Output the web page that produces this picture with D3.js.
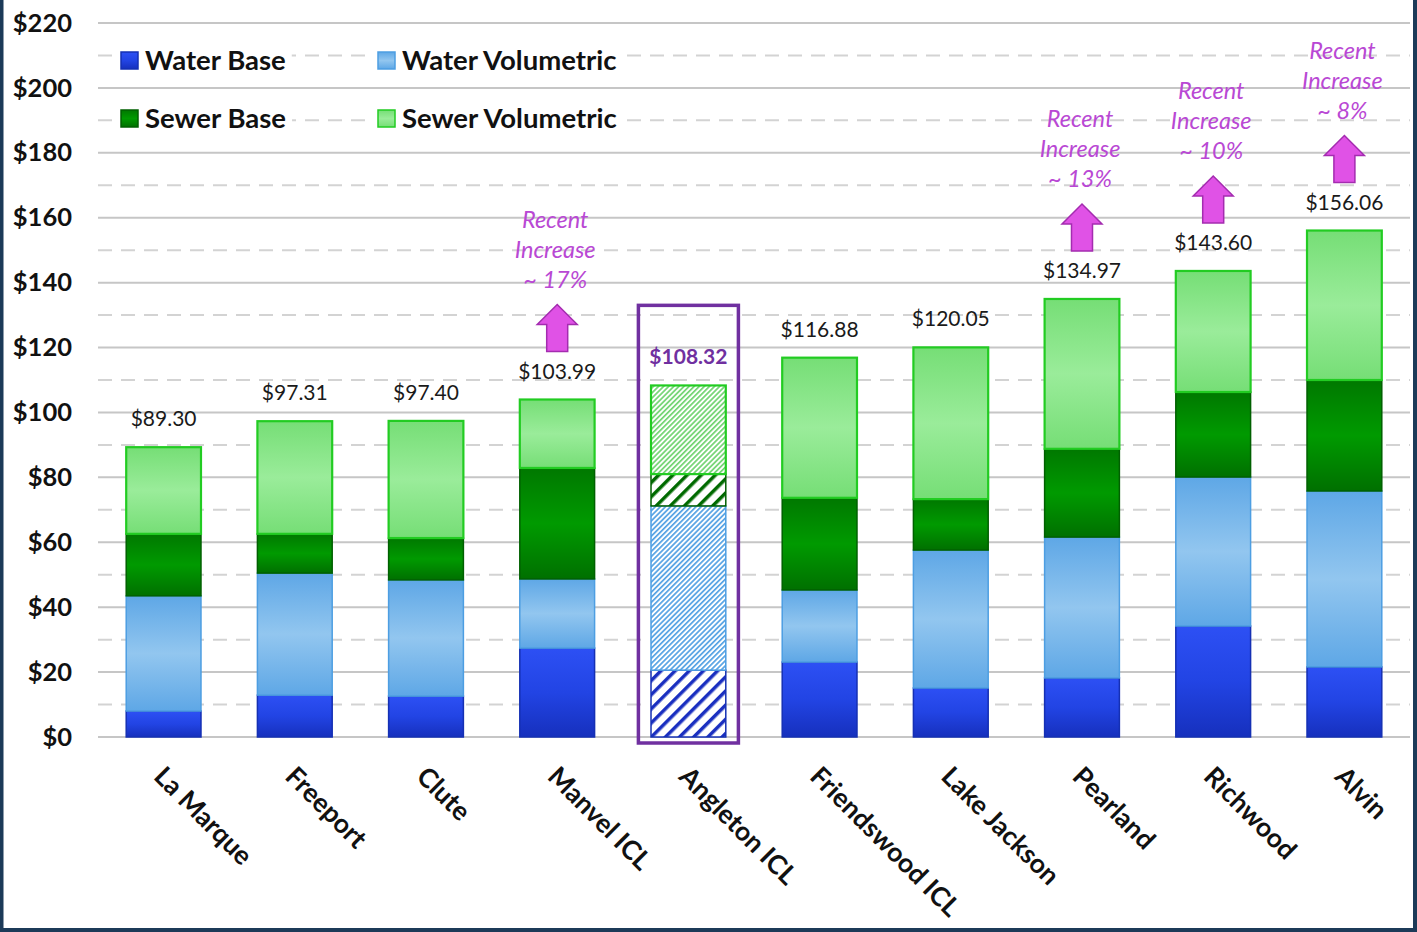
<!DOCTYPE html>
<html>
<head>
<meta charset="utf-8">
<script src="https://cdn.jsdelivr.net/npm/d3@7"></script>
<style>
  html, body { margin: 0; padding: 0; background: #fff; }
  svg { display: block; font-family: Lato, "Open Sans", sans-serif; }
</style>
</head>
<body>
<svg id="chart"></svg>
<script>
// values ($ per month)
const categories = ["La Marque", "Freeport", "Clute", "Manvel ICL", "Angleton ICL",
  "Friendswood ICL", "Lake Jackson", "Pearland", "Richwood", "Alvin"];
const waterBase = [8.0, 12.9, 12.6, 27.4, 20.6, 23.1, 15.1, 18.2, 34.2, 21.6];
const waterVolumetric = [35.5, 37.6, 35.8, 21.3, 50.6, 22.2, 42.5, 43.4, 45.9, 54.2];
const sewerBase = [19.1, 12.1, 12.9, 34.2, 9.8, 28.4, 15.7, 27.2, 26.2, 34.2];
const sewerVolumetric = [26.7, 34.71, 36.1, 21.09, 27.32, 43.18, 46.75, 46.17, 37.3, 46.06];
const totals = [89.30, 97.31, 97.40, 103.99, 108.32, 116.88, 120.05, 134.97, 143.60, 156.06];
const seriesNames = ["Water Base", "Water Volumetric", "Sewer Base", "Sewer Volumetric"];
const highlighted = "Angleton ICL";
const increaseCities = ["Manvel ICL", "Pearland", "Richwood", "Alvin"];
const increaseLabels = ["~ 17%", "~ 13%", "~ 10%", "~ 8%"];
const yTicks = [0, 20, 40, 60, 80, 100, 120, 140, 160, 180, 200, 220];
const yMinorTicks = [10, 30, 50, 70, 90, 110, 130, 150, 170, 190, 210];

const width = 1417;
const height = 932;

const styles = {
  "Water Base": { stops: ["#2d50f4", "#2244e4", "#1630bd"], stroke: "#1530b4", hatch: "#1a2fc0", wide: true },
  "Water Volumetric": { stops: ["#5ea7e6", "#92c6ef", "#5ea7e6"], stroke: "#4d9ee2", hatch: "#55a2e4", wide: false },
  "Sewer Base": { stops: ["#007800", "#009a00", "#007000"], stroke: "#006000", hatch: "#006a00", wide: true },
  "Sewer Volumetric": { stops: ["#76de76", "#9aec9a", "#76de76"], stroke: "#22cc22", hatch: "#72d472", wide: false },
};

const svg = d3.select("#chart")
  .attr("width", width)
  .attr("height", height)
  .attr("viewBox", `0 0 ${width} ${height}`);

const defs = svg.append("defs");

seriesNames.forEach((name, i) => {
  const st = styles[name];
  const g = defs.append("linearGradient")
    .attr("id", `grad${i}`)
    .attr("x1", 0).attr("y1", 0).attr("x2", 0).attr("y2", 1);
  g.append("stop").attr("offset", "0%").attr("stop-color", st.stops[0]);
  g.append("stop").attr("offset", "50%").attr("stop-color", st.stops[1]);
  g.append("stop").attr("offset", "100%").attr("stop-color", st.stops[2]);

  // hatch patterns for the highlighted bar
  const size = st.wide ? 10 : 3.6;
  const p = defs.append("pattern")
    .attr("id", `hatch${i}`)
    .attr("patternUnits", "userSpaceOnUse")
    .attr("width", size)
    .attr("height", size)
    .attr("patternTransform", "rotate(45)");
  p.append("rect").attr("width", size).attr("height", size).attr("fill", "#fff");
  p.append("rect")
    .attr("width", st.wide ? 3.5 : 1.7)
    .attr("height", size)
    .attr("fill", st.hatch);
});

const x = d3.scaleBand()
  .domain(categories)
  .range([98, 1410])
  .paddingInner(0.43)
  .paddingOuter(0.215);

const y = d3.scaleLinear()
  .domain([0, 220])
  .range([737, 23]);

// gridlines
svg.append("g")
  .selectAll("line")
  .data(yMinorTicks)
  .enter()
  .append("line")
  .attr("x1", 98).attr("x2", 1410)
  .attr("y1", (d) => y(d)).attr("y2", (d) => y(d))
  .style("stroke", "#d3d3d3")
  .style("stroke-width", 2)
  .style("stroke-dasharray", "14 9");

svg.append("g")
  .selectAll("line")
  .data(yTicks)
  .enter()
  .append("line")
  .attr("x1", 98).attr("x2", 1410)
  .attr("y1", (d) => y(d)).attr("y2", (d) => y(d))
  .style("stroke", "#c6c6c6")
  .style("stroke-width", 2);

// y axis labels
const yAxis = d3.axisLeft(y)
  .tickValues(yTicks)
  .tickSize(0)
  .tickPadding(0)
  .tickFormat((d) => `$${d}`);

svg.append("g")
  .attr("transform", "translate(72, 0)")
  .call(yAxis)
  .call((g) => g.select(".domain").remove())
  .selectAll("text")
  .style("font-family", "Lato, sans-serif")
  .style("font-size", "25.5px")
  .style("font-weight", "bold")
  .style("fill", "#111");

// stacked bars
const rows = categories.map((c, i) => ({
  category: c,
  "Water Base": waterBase[i],
  "Water Volumetric": waterVolumetric[i],
  "Sewer Base": sewerBase[i],
  "Sewer Volumetric": sewerVolumetric[i],
}));

const stacked = d3.stack().keys(seriesNames)(rows);

svg.append("g")
  .selectAll("g")
  .data(stacked)
  .enter()
  .append("g")
  .each(function (layer, li) {
    d3.select(this)
      .selectAll("rect")
      .data(layer)
      .enter()
      .append("rect")
      .attr("x", (d) => x(d.data.category))
      .attr("width", x.bandwidth())
      .attr("y", (d) => y(d[1]))
      .attr("height", (d) => y(d[0]) - y(d[1]))
      .style("fill", (d) =>
        d.data.category === highlighted ? `url(#hatch${li})` : `url(#grad${li})`)
      .style("stroke", styles[layer.key].stroke)
      .style("stroke-width", layer.key === "Sewer Volumetric" ? 2.2 : 1.5);
  });

// highlight frame round Angleton
svg.append("rect")
  .attr("x", x(highlighted) + x.bandwidth() / 2 - 50)
  .attr("width", 100)
  .attr("y", y(133))
  .attr("height", y(0) + 6 - y(133))
  .style("fill", "none")
  .style("stroke", "#7030a0")
  .style("stroke-width", 3.5);

// total labels
svg.append("g")
  .selectAll("text")
  .data(categories)
  .enter()
  .append("text")
  .attr("x", (c) => x(c) + x.bandwidth() / 2)
  .attr("y", (c, i) => y(totals[i]) - 21)
  .attr("text-anchor", "middle")
  .style("font-size", "21px")
  .style("font-weight", (c) => (c === highlighted ? "bold" : "normal"))
  .style("fill", (c) => (c === highlighted ? "#7030a0" : "#1a1a1a"))
  .text((c, i) => `$${totals[i].toFixed(2)}`);

// category labels, rotated
svg.append("g")
  .selectAll("text")
  .data(categories)
  .enter()
  .append("text")
  .attr("transform", (c) => `translate(${x(c) + x.bandwidth() / 2 - 11}, 778) rotate(45)`)
  .style("font-size", "26.5px")
  .style("font-weight", "bold")
  .style("fill", "#111")
  .text((c) => c);

// "recent increase" notes with arrows
increaseCities.forEach((c, k) => {
  const i = categories.indexOf(c);
  const cx = x(c) + x.bandwidth() / 2;
  const labelMid = y(totals[i]) - 28;
  const bottom = labelMid - 20;
  const top = bottom - 47;
  const g = svg.append("g");

  g.append("path")
    .attr("d", `M${cx},${top} L${cx + 20},${top + 20} L${cx + 10.5},${top + 20} L${cx + 10.5},${bottom}
      L${cx - 10.5},${bottom} L${cx - 10.5},${top + 20} L${cx - 20},${top + 20} Z`)
    .style("fill", "#e052e6")
    .style("stroke", "#a42cb0")
    .style("stroke-width", 1.5);

  ["Recent", "Increase", increaseLabels[k]].forEach((t, j) => {
    g.append("text")
      .attr("x", cx - 2)
      .attr("y", top - 85 + j * 30)
      .attr("dy", "0.35em")
      .attr("text-anchor", "middle")
      .style("font-size", "23.5px")
      .style("font-style", "italic")
      .style("fill", "#b948d4")
      .text(t);
  });
});

// legend
const legend = svg.append("g");
seriesNames.forEach((name, i) => {
  const lx = i % 2 === 0 ? 121 : 378;
  const ly = i < 2 ? 60 : 118;
  const item = legend.append("g").attr("transform", `translate(${lx}, ${ly})`);
  const txt = item.append("text")
    .attr("x", 24)
    .attr("dy", "0.35em")
    .style("font-size", "27.5px")
    .style("font-weight", "bold")
    .style("fill", "#111")
    .text(name);
  const w = txt.node().getComputedTextLength();
  item.insert("rect", "text")
    .attr("x", -4).attr("y", -14)
    .attr("width", w + 34).attr("height", 28)
    .style("fill", "#fff");
  item.append("rect")
    .attr("x", 0).attr("y", -8)
    .attr("width", 17).attr("height", 17)
    .style("fill", `url(#grad${i})`)
    .style("stroke", styles[name].stroke)
    .style("stroke-width", 1.5);
});

// frame of the slide
svg.append("path")
  .attr("d", `M1.5,0 L1.5,${height - 2} L${width - 2},${height - 2} L${width - 2},0`)
  .style("fill", "none")
  .style("stroke", "#1c3a58")
  .style("stroke-width", 4);
</script>
</body>
</html>
